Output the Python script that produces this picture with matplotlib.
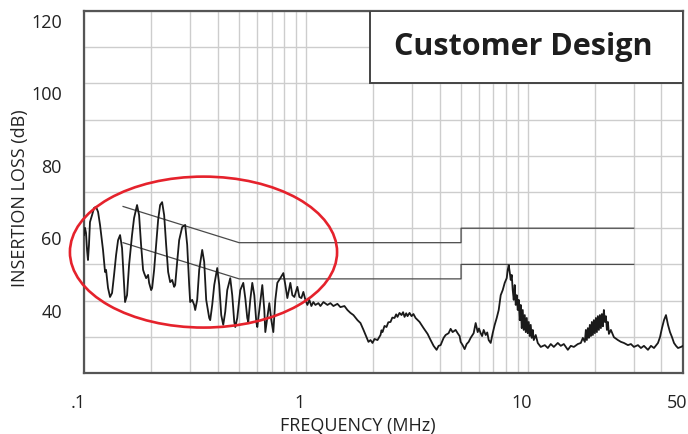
import matplotlib
matplotlib.use("Agg")
import matplotlib.pyplot as plt
from matplotlib.patches import Ellipse, Rectangle
from matplotlib.ticker import FixedLocator, NullFormatter
from matplotlib.transforms import ScaledTranslation

plt.rcParams['font.family'] = ['Open Sans', 'DejaVu Sans']

# measured insertion loss trace (MHz, dB)
freq_mhz = [
    0.100, 0.1010, 0.1021, 0.1032, 0.1042, 0.1053, 0.1064, 0.1087, 0.1110, 0.1133,
    0.1157, 0.1181, 0.1218, 0.1244, 0.1257, 0.1283, 0.1310, 0.1338, 0.1366, 0.1395,
    0.1424, 0.1454, 0.1484, 0.1515, 0.1531, 0.1563, 0.1596, 0.1646, 0.1681, 0.1734,
    0.1771, 0.1808, 0.1846, 0.1866, 0.1905, 0.1945, 0.1965, 0.2007, 0.2028, 0.2070,
    0.2113, 0.2158, 0.2203, 0.2249, 0.2297, 0.2345, 0.2394, 0.2445, 0.2496, 0.2548,
    0.2575, 0.2629, 0.2684, 0.2769, 0.2857, 0.2917, 0.2978, 0.3009, 0.3072, 0.3137,
    0.3170, 0.3236, 0.3304, 0.3409, 0.3480, 0.3553, 0.3666, 0.3704, 0.3782, 0.3862,
    0.3984, 0.4068, 0.4153, 0.4240, 0.4329, 0.4420, 0.4560, 0.4655, 0.4754, 0.4804,
    0.4904, 0.5060, 0.5220, 0.5329, 0.5441, 0.5498, 0.5613, 0.5731, 0.5852, 0.5975,
    0.6037, 0.6164, 0.6359, 0.6493, 0.6561, 0.6698, 0.6839, 0.6983, 0.7129, 0.7279,
    0.7432, 0.7667, 0.7910, 0.8076, 0.8246, 0.8507, 0.8686, 0.8868, 0.9149, 0.9341,
    0.9537, 0.9737, 0.9942, 1.015, 1.036, 1.058, 1.080, 1.103, 1.138, 1.162,
    1.199, 1.250, 1.289, 1.330, 1.386, 1.430, 1.491, 1.538, 1.587, 1.637,
    1.707, 1.761, 1.817, 1.874, 1.913, 1.954, 1.995, 2.037, 2.101, 2.168,
    2.19, 2.213, 2.26, 2.307, 2.35, 2.405, 2.45, 2.507, 2.55, 2.586,
    2.64, 2.696, 2.74, 2.782, 2.83, 2.870, 2.93, 2.991, 3.05, 3.119,
    3.251, 3.389, 3.533, 3.645, 3.760, 3.879, 3.961, 4.044, 4.172, 4.260,
    4.394, 4.487, 4.581, 4.726, 4.825, 4.926, 4.978, 5.082, 5.189, 5.298,
    5.410, 5.523, 5.698, 5.818, 5.940, 6.02, 6.128, 6.22, 6.322, 6.455,
    6.56, 6.659, 6.799,
    6.942, 7.088, 7.237, 7.389, 7.544, 7.702, 7.864, 8.029, 8.113, 8.198,
    8.283, 8.370, 8.457, 8.546, 8.635, 8.726, 8.817, 8.909, 9.002, 9.096,
    9.191, 9.287, 9.384, 9.482, 9.581, 9.681, 9.782, 9.884, 9.988, 10.09,
    10.20, 10.30, 10.41, 10.52, 10.63, 10.85, 11.08, 11.43, 11.92, 12.30,
    12.68, 13.09, 13.64, 14.07, 14.52, 15.14, 15.61, 16.11, 16.79, 17.32,
    17.69, 18.06, 18.25, 18.44, 18.63, 18.83, 19.02, 19.22, 19.42, 19.63,
    19.83, 20.04, 20.25, 20.46, 20.67, 20.89, 21.11, 21.33, 21.55, 21.78,
    22.00, 22.23, 22.47, 22.70, 22.94, 23.18, 23.66, 24.41, 25.45, 26.26,
    27.09, 28.24, 29.13, 30.05, 31.33, 32.32, 33.34, 34.76, 35.86, 37.00,
    38.57, 39.38, 40.20, 41.05, 41.91, 42.79, 43.69, 44.61, 45.54, 46.50,
    47.48, 48.98, 50.00,
]
loss_db = [
    58.1, 60.1, 58.7, 54.0, 51.2, 55.4, 61.7, 63.6, 65.6, 65.9,
    64.5, 60.9, 54.0, 47.9, 48.5, 43.5, 41.0, 42.1, 47.1, 52.6,
    56.7, 58.1, 54.5, 44.3, 39.6, 41.5, 49.8, 58.1, 62.8, 66.4,
    63.6, 55.4, 48.5, 47.6, 46.2, 47.1, 44.9, 42.9, 43.5, 48.5,
    55.4, 62.3, 66.4, 67.2, 63.6, 55.4, 47.9, 45.1, 45.7, 43.8,
    44.3, 50.7, 56.7, 60.3, 60.9, 55.4, 44.3, 39.6, 40.2, 38.8,
    37.4, 40.2, 48.5, 54.0, 50.7, 40.2, 35.2, 34.6, 38.8, 44.3,
    49.0, 44.3, 36.0, 33.3, 36.9, 42.9, 46.2, 41.5, 34.1, 32.7,
    35.2, 42.9, 44.9, 40.7, 35.2, 34.1, 40.2, 44.9, 41.5, 34.1,
    32.7, 37.4, 44.3, 37.4, 31.3, 35.2, 39.3, 34.6, 31.3, 40.2,
    44.9, 46.2, 47.6, 44.3, 40.7, 44.9, 41.5, 41.0, 43.8, 41.0,
    40.7, 42.4, 40.2, 38.8, 40.2, 38.5, 39.6, 38.8, 39.3, 38.5,
    39.6, 38.8, 39.3, 38.5, 39.1, 38.2, 38.5, 37.4, 36.6, 36.0,
    34.6, 33.8, 31.9, 29.9, 28.6, 29.1, 28.3, 29.4, 29.1, 30.5,
    31.8, 31.3, 33.0, 32.7, 34.0, 34.1, 35.3, 35.2, 36.2, 35.5,
    36.6, 36.0, 36.8, 35.5, 36.5, 35.7, 36.6, 35.7, 36.3, 35.2,
    34.1, 32.4, 30.8, 29.1, 27.5, 26.4, 27.5, 27.7, 29.7, 30.5,
    31.0, 32.2, 31.3, 31.9, 31.0, 30.2, 28.6, 27.7, 26.6, 28.0,
    28.6, 29.7, 31.0, 33.8, 31.3, 32.3, 31.0, 30.2, 31.9, 30.5,
    31.2, 29.1, 28.3,
    31.0, 33.3, 35.2, 37.4, 41.5, 42.9, 44.9, 46.2, 48.5, 49.8,
    47.9, 45.7, 47.1, 42.9, 40.2, 44.3, 38.8, 41.5, 37.4, 40.2,
    34.6, 38.8, 32.4, 37.4, 31.9, 36.0, 31.3, 35.2, 31.0, 34.1,
    30.2, 33.3, 29.7, 31.9, 29.1, 30.5, 28.3, 27.2, 27.7, 26.9,
    28.0, 27.2, 28.3, 27.5, 28.0, 26.4, 27.5, 27.2, 28.0, 28.3,
    29.7, 28.6, 31.9, 29.1, 32.4, 29.7, 33.3, 30.2, 34.1, 30.5,
    34.6, 31.0, 35.2, 31.3, 35.7, 31.9, 36.0, 32.4, 36.3, 32.9,
    37.4, 34.1, 35.7, 31.9, 34.1, 30.8, 31.9, 29.9, 29.1, 28.6,
    28.3, 27.7, 28.0, 27.2, 27.7, 26.9, 27.5, 26.4, 27.5, 26.9,
    28.3, 29.9, 32.4, 34.6, 36.0, 33.3, 31.3, 29.9, 28.3, 27.5,
    26.9, 27.2, 27.5,
]

# limit lines (quasi-peak and average)
qp_freq = [0.15, 0.5, 5, 5, 30]
qp_db = [66, 56, 56, 60, 60]
av_freq = [0.15, 0.5, 5, 5, 30]
av_db = [56, 46, 46, 50, 50]

x_ticks = [0.1, 1, 10, 50]
x_tick_labels = ['.1', '1', '10', '50']
y_ticks = [40, 60, 80, 100, 120]
minor_x = [m * d for d in (0.1, 1, 10) for m in range(2, 10)]

fig = plt.figure(figsize=(6.88, 4.34), dpi=100)
ax = fig.add_axes([84 / 688, 1 - 373 / 434, 599 / 688, 362 / 434])

ax.set_xscale('log')
ax.set_xlim(0.1, 50)
ax.set_ylim(20, 120)

ax.xaxis.set_major_locator(FixedLocator(x_ticks))
ax.set_xticklabels(x_tick_labels)
ax.xaxis.set_minor_locator(FixedLocator([v for v in minor_x if v < 50]))
ax.xaxis.set_minor_formatter(NullFormatter())
ax.set_yticks(y_ticks)
ax.yaxis.set_minor_locator(FixedLocator(list(range(30, 120, 20))))

ax.grid(True, which='both', color='#cdcdcd', linewidth=1.0)
ax.tick_params(which='both', length=0, labelsize=13, colors='#222222')
ax.tick_params(axis='x', pad=15)
ax.tick_params(axis='y', pad=16)

for lab in ax.get_xticklabels():
    lab.set_transform(lab.get_transform() + ScaledTranslation(-0.06, 0, fig.dpi_scale_trans))
for lab in ax.get_yticklabels():
    lab.set_transform(lab.get_transform() + ScaledTranslation(0, -0.10, fig.dpi_scale_trans))

for s in ax.spines.values():
    s.set_color('#555555')
    s.set_linewidth(1.6)

ax.plot(qp_freq, qp_db, color='#4a4a4a', lw=0.9, zorder=3)
ax.plot(av_freq, av_db, color='#4a4a4a', lw=0.9, zorder=3)
ax.plot(freq_mhz, loss_db, color='#1a1a1a', lw=1.3, zorder=4)

ell = Ellipse((0.1995, 0.334), 0.446, 0.417, transform=ax.transAxes,
              fill=False, edgecolor='#e5222c', lw=1.9, zorder=5, clip_on=False)
ax.add_patch(ell)

box = Rectangle((0.4775, 0.801), 0.5225, 0.199, transform=ax.transAxes,
                facecolor='white', edgecolor='#444444', lw=1.4, zorder=6)
ax.add_patch(box)
ax.text(0.733, 0.9006, 'Customer Design', transform=ax.transAxes,
        ha='center', va='center', fontsize=22, fontweight='bold',
        color='#1e1e1e', zorder=7)

fig.text(358 / 688, 1 - 426 / 434, 'FREQUENCY (MHz)', ha='center', va='center',
         fontsize=13, color='#222222')
fig.text(20 / 688, 1 - 198 / 434, 'INSERTION LOSS (dB)', ha='center', va='center',
         rotation=90, fontsize=13, color='#222222')

fig.savefig('out.png', dpi=100)
